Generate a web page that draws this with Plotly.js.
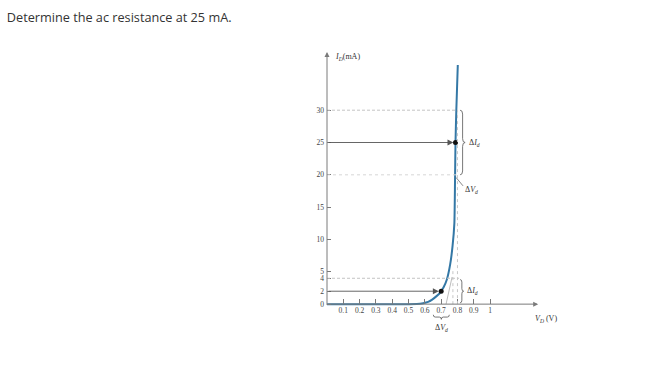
<!DOCTYPE html>
<html>
<head>
<meta charset="utf-8">
<script src="https://cdn.plot.ly/plotly-3.0.1.min.js"></script>
<style>
html,body{margin:0;padding:0;background:#fff;}
#chart{width:651px;height:383px;}
</style>
</head>
<body>
<div id="chart"></div>
<script>
// Diode characteristic
const vd = [0, 0.1, 0.2, 0.3, 0.4, 0.5, 0.55, 0.59, 0.62, 0.645, 0.67, 0.69, 0.70, 0.715, 0.735, 0.755, 0.77, 0.781, 0.785, 0.788, 0.793, 0.802];
const id = [0, 0, 0, 0, 0, 0, 0.02, 0.15, 0.35, 0.7, 1.2, 1.65, 2.0, 2.6, 3.8, 6.1, 9, 12.5, 19, 25, 30, 37];

// Operating points
const qV = [0.788, 0.70];
const qI = [25, 2];

// Tick labels
const xTickVals = [0.1, 0.2, 0.3, 0.4, 0.5, 0.6, 0.7, 0.8, 0.9, 1.0];
const xTickText = ['0.1', '0.2', '0.3', '0.4', '0.5', '0.6', '0.7', '0.8', '0.9', '1'];
const yTickVals = [0, 2, 4, 5, 10, 15, 20, 25, 30];
const yTickText = ['0', '2', '4', '5', '10', '15', '20', '25', '30'];

// Construction lines (values)
const upperRange = [20, 30];   // ΔId around 25 mA
const lowerRange = [0.2, 3.8]; // ΔId around 2 mA
const lowerDV = [0.652, 0.75]; // ΔVd around 0.7 V
const tangentV = [0.73, 0.767];
const tangentI = [0, 4.2];

const serif = 'Liberation Serif, Times New Roman, serif';
const gray = '#c4c4c4';
const axisCol = '#7a7a7a';

function vBrace(x0, yb, yt, w, h) {
  const xm = x0 + w / 2, ym = (yb + yt) / 2;
  return `M ${x0},${yt} Q ${xm},${yt} ${xm},${yt - h} L ${xm},${ym + h} Q ${xm},${ym} ${x0 + w},${ym} ` +
         `Q ${xm},${ym} ${xm},${ym - h} L ${xm},${yb + h} Q ${xm},${yb} ${x0},${yb}`;
}
function hBrace(xl, xr, yTop, d, h) {
  const xm = (xl + xr) / 2, ym = yTop - d / 2;
  return `M ${xl},${yTop} Q ${xl},${ym} ${xl + h},${ym} L ${xm - h},${ym} Q ${xm},${ym} ${xm},${yTop - d} ` +
         `Q ${xm},${ym} ${xm + h},${ym} L ${xr - h},${ym} Q ${xr},${ym} ${xr},${yTop}`;
}

const traces = [
  {x: vd, y: id, type: 'scatter', mode: 'lines',
   line: {color: '#3478a6', width: 2, shape: 'spline', smoothing: 0.5},
   hoverinfo: 'skip', showlegend: false},
  {x: qV, y: qI, type: 'scatter', mode: 'markers',
   marker: {color: '#111', size: 5}, cliponaxis: false, hoverinfo: 'skip', showlegend: false}
];

const shapes = [
  // horizontal guides
  {type: 'line', x0: 0, x1: 0.80, y0: upperRange[1], y1: upperRange[1], line: {color: gray, width: 1, dash: '3px,2px'}},
  {type: 'line', x0: 0, x1: 0.80, y0: upperRange[0], y1: upperRange[0], line: {color: '#d6d6d6', width: 1, dash: 'dot'}},
  {type: 'line', x0: 0, x1: 0.81, y0: 4, y1: 4, line: {color: gray, width: 1, dash: '3px,2px'}},
  // vertical guides
  {type: 'line', x0: 0.80, x1: 0.80, y0: 0, y1: upperRange[1], line: {color: '#c8c8c8', width: 1, dash: 'dot'}},
  {type: 'line', x0: 0.772, x1: 0.772, y0: 0, y1: 5.5, line: {color: '#c8c8c8', width: 1, dash: 'dot'}},
  // tangent
  {type: 'line', x0: tangentV[0], x1: tangentV[1], y0: tangentI[0], y1: tangentI[1], line: {color: '#bdbdbd', width: 1}},
  // braces
  {type: 'path', path: vBrace(0.816, upperRange[0], upperRange[1], 0.031, 0.6), line: {color: '#555', width: 0.8}},
  {type: 'path', path: vBrace(0.816, lowerRange[0], lowerRange[1], 0.022, 0.4), line: {color: '#555', width: 0.8}},
  {type: 'path', path: hBrace(lowerDV[0], lowerDV[1], -1.65, 0.7, 0.012), line: {color: '#555', width: 0.8}},
  // ΔVd leader (upper)
  {type: 'line', x0: 0.791, x1: 0.834, y0: 19.6, y1: 18.3, line: {color: '#666', width: 0.8}}
];

const annFont = {family: serif, size: 8, color: '#333'};
const annotations = [
  // y axis with arrow
  {x: 0, y: 39, ax: 0, ay: -0.35, xref: 'x', yref: 'y', axref: 'x', ayref: 'y', text: '',
   showarrow: true, arrowhead: 2, arrowsize: 1, arrowwidth: 1, arrowcolor: axisCol, standoff: 0},
  // x axis with arrow
  {x: 1.295, y: 0, ax: 0, ay: 0, xref: 'x', yref: 'y', axref: 'x', ayref: 'y', text: '',
   showarrow: true, arrowhead: 2, arrowsize: 1, arrowwidth: 1, arrowcolor: axisCol, standoff: 0},
  // arrows to operating points
  {x: qV[0] - 0.013, y: qI[0], ax: 0, ay: qI[0], xref: 'x', yref: 'y', axref: 'x', ayref: 'y', text: '',
   showarrow: true, arrowhead: 2, arrowsize: 1.3, arrowwidth: 0.9, arrowcolor: '#555', standoff: 0},
  {x: qV[1] - 0.015, y: qI[1], ax: 0, ay: qI[1], xref: 'x', yref: 'y', axref: 'x', ayref: 'y', text: '',
   showarrow: true, arrowhead: 2, arrowsize: 1.3, arrowwidth: 0.9, arrowcolor: '#555', standoff: 0},
  // axis titles
  {x: 0.035, y: 38.3, xref: 'x', yref: 'y', xanchor: 'left', yanchor: 'middle', showarrow: false,
   text: '<i>I</i><sub><i>D</i></sub>(mA)', font: annFont},
  {x: 1.265, y: -1.2, xref: 'x', yref: 'y', xanchor: 'left', yanchor: 'top', showarrow: false,
   text: '<i>V</i><sub><i>D</i></sub> (V)', font: annFont},
  // delta labels
  {x: 0.857, y: 25, xref: 'x', yref: 'y', xanchor: 'left', yanchor: 'middle', showarrow: false,
   text: 'Δ<i>I</i><sub><i>d</i></sub>', font: annFont},
  {x: 0.845, y: 2, xref: 'x', yref: 'y', xanchor: 'left', yanchor: 'middle', showarrow: false,
   text: 'Δ<i>I</i><sub><i>d</i></sub>', font: annFont},
  {x: 0.835, y: 17.7, xref: 'x', yref: 'y', xanchor: 'left', yanchor: 'middle', showarrow: false,
   text: 'Δ<i>V</i><sub><i>d</i></sub>', font: annFont},
  {x: 0.70, y: -3.7, xref: 'x', yref: 'y', xanchor: 'center', yanchor: 'middle', showarrow: false,
   text: 'Δ<i>V</i><sub><i>d</i></sub>', font: annFont}
];

const layout = {
  width: 651, height: 383,
  margin: {l: 327, r: 112, t: 52, b: 53},
  paper_bgcolor: '#fff', plot_bgcolor: 'rgba(0,0,0,0)',
  showlegend: false,
  title: {text: 'Determine the ac resistance at 25 mA.', xref: 'container', yref: 'container',
          x: 0.0105, xanchor: 'left', y: 0.955, yanchor: 'middle',
          font: {family: 'Open Sans, sans-serif', size: 12.7, color: '#333'}},
  xaxis: {range: [0, 1.3], anchor: 'free', position: 4 / 43, showline: false, showgrid: false, zeroline: false,
          tickmode: 'array', tickvals: xTickVals, ticktext: xTickText,
          ticks: 'inside', ticklen: 5, tickwidth: 1, tickcolor: axisCol,
          tickfont: {family: serif, size: 7.5, color: '#444'}, fixedrange: true},
  yaxis: {range: [-4, 39], showline: false, showgrid: false, zeroline: false,
          tickmode: 'array', tickvals: yTickVals, ticktext: yTickText,
          ticks: 'inside', ticklen: 4, tickwidth: 1, tickcolor: axisCol, ticklabelstandoff: 2,
          tickfont: {family: serif, size: 7.5, color: '#444'}, fixedrange: true},
  shapes: shapes,
  annotations: annotations
};

Plotly.newPlot('chart', traces, layout, {staticPlot: true, displayModeBar: false});
</script>
</body>
</html>
